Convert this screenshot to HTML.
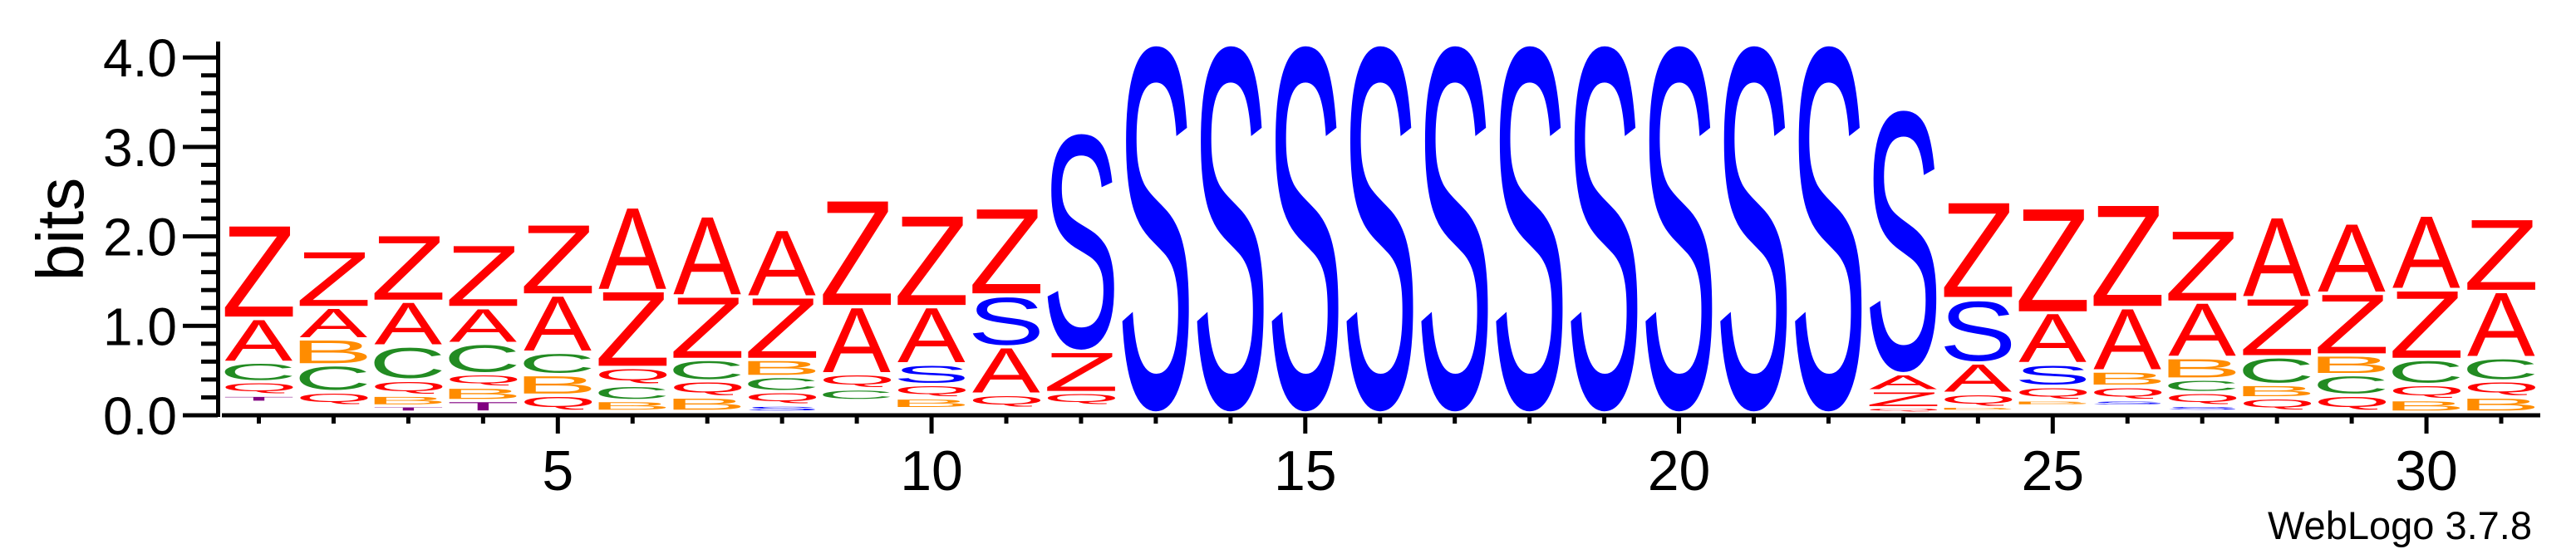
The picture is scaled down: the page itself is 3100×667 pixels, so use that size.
<!DOCTYPE html>
<html><head><meta charset="utf-8">
<style>
html,body{margin:0;padding:0;background:#fff;}
svg{display:block;}
text{font-family:"Liberation Sans",Arial,sans-serif;}
</style></head>
<body>
<svg id="chart" width="3100" height="667" viewBox="0 0 3100 667" xmlns="http://www.w3.org/2000/svg">
  <rect width="3100" height="667" fill="#fff"/>
  <g id="axes"></g>
  <g id="stacks"></g>
  <text transform="translate(100,276) rotate(-90)" text-anchor="middle" font-size="80" fill="#000">bits</text>
  <text x="3047" y="649" text-anchor="end" font-size="47" fill="#000">WebLogo 3.7.8</text>
</svg>
<script>
// ---- data ----
const positions = [1,2,3,4,5,6,7,8,9,10,11,12,13,14,15,16,17,18,19,20,21,22,23,24,25,26,27,28,29,30,31];
// letters bottom -> top (' ' = invisible residual)
const stackLetters = [
  " TQCAZ"," QCBAZ"," TBQCAZ"," TBQCAZ"," QBCAZ"," BCQZA"," BQCZA"," SQCBZA",
  " CQAZ"," BQSAZ"," QASZ"," QZS"," S"," S"," S"," S"," S"," S"," S"," S"," S"," S",
  " QZAS"," BQASZ"," BQSAZ"," SQBAZ"," SQCBAZ"," QBCZA"," QCBZA"," BQCZA"," BQCAZ"
];
const stackBits = [
  [0.14,0.08,0.15,0.22,0.49,1.01],
  [0.10,0.16,0.30,0.29,0.35,0.60],
  [0.03,0.07,0.12,0.17,0.38,0.50,0.71],
  [0.03,0.13,0.15,0.15,0.34,0.40,0.67],
  [0.04,0.18,0.23,0.25,0.64,0.76],
  [0.04,0.12,0.17,0.20,0.86,0.90],
  [0.04,0.16,0.18,0.24,0.71,0.86],
  [0.03,0.08,0.15,0.17,0.19,0.70,0.72],
  [0.16,0.13,0.17,0.75,1.16],
  [0.07,0.12,0.15,0.23,0.64,0.99],
  [0.07,0.16,0.53,0.58,0.94],
  [0.10,0.15,0.46,2.45],
  [0.02,4.15],[0.02,4.15],[0.02,4.15],[0.02,4.15],[0.02,4.15],
  [0.02,4.15],[0.02,4.15],[0.02,4.15],[0.02,4.15],[0.02,4.15],
  [0.02,0.06,0.19,0.19,2.97],
  [0.04,0.04,0.16,0.34,0.72,1.05],
  [0.10,0.06,0.16,0.25,0.57,1.14],
  [0.10,0.06,0.16,0.17,0.71,1.12],
  [0.04,0.06,0.15,0.15,0.24,0.62,0.77],
  [0.04,0.15,0.15,0.31,0.66,0.87],
  [0.04,0.18,0.23,0.22,0.69,0.75],
  [0.03,0.14,0.17,0.28,0.78,0.80],
  [0.03,0.17,0.18,0.26,0.74,0.78]
];
const yTicks = [0,1,2,3,4];
const yTickLabels = ["0.0","1.0","2.0","3.0","4.0"];
const xLabelEvery = 5;
const letterColors = {Z:"#ff0000",A:"#ff0000",Q:"#ff0000",C:"#228b22",B:"#ff8c00",S:"#0000ff",T:"#800080"};

// ---- scales ----
const NS = "http://www.w3.org/2000/svg";
const X0 = 311.5, DX = 89.95, Y0 = 500, PPB = 107.7;
function xPos(p){ return X0 + (p-1)*DX; }
function yPos(b){ return Y0 - b*PPB; }

const axes = document.getElementById('axes');
function rect(x,y,w,h,name){
  const r = document.createElementNS(NS,'rect');
  r.setAttribute('x',x); r.setAttribute('y',y); r.setAttribute('width',w); r.setAttribute('height',h);
  r.setAttribute('fill','#000');
  
  
  axes.appendChild(r);
  return r;
}
rect(260,50,5,452,'y-axis-line');
rect(267,497.5,3057-267,5,'x-axis-line');
for(let i=0;i<=20;i++){
  const b=i*0.2, y=yPos(b);
  const major = (i%5===0);
  rect(major?220:242, y-2.5, major?42:20, 5, major?'y-major-tick':'y-minor-tick');
}
yTicks.forEach((b,i)=>{
  const t=document.createElementNS(NS,'text');
  t.setAttribute('x',213); t.setAttribute('y',yPos(b)+23);
  t.setAttribute('text-anchor','end'); t.setAttribute('font-size','64'); t.setAttribute('fill','#000');
  t.textContent=yTickLabels[i];
  
  
  axes.appendChild(t);
});
positions.forEach(p=>{
  const major = (p%xLabelEvery===0);
  rect(xPos(p)-2.5, 502, 5, major?20:8, major?'x-major-tick':'x-minor-tick');
  if(major){
    const t=document.createElementNS(NS,'text');
    t.setAttribute('x',xPos(p)); t.setAttribute('y',590);
    t.setAttribute('text-anchor','middle'); t.setAttribute('font-size','68'); t.setAttribute('fill','#000');
    t.textContent=String(p);
    
    
    axes.appendChild(t);
  }
});

// ---- letter stacks ----
const cv=document.createElement('canvas').getContext('2d');
cv.font='100px "Liberation Sans", Arial, sans-serif';
const metrics={};
function m(ch){
  if(!metrics[ch]){
    const mm=cv.measureText(ch);
    metrics[ch]={l:mm.actualBoundingBoxLeft,r:mm.actualBoundingBoxRight,a:mm.actualBoundingBoxAscent,d:mm.actualBoundingBoxDescent};
  }
  return metrics[ch];
}
const stacks=document.getElementById('stacks');
const LW=82, LBASE=497.5;
positions.forEach((p,pi)=>{
  const letters=stackLetters[pi], bits=stackBits[pi];
  const g=document.createElementNS(NS,'g');
  
  
  stacks.appendChild(g);
  let acc=0;
  const n=Math.min(letters.length,bits.length);
  for(let k=0;k<n;k++){
    const ch=letters[k], h=bits[k];
    const bottom=LBASE-acc*PPB;
    acc+=h;
    if(ch===' ') continue;
    const slot=h*PPB;
    const isTop=(k===n-1);
    let ink = isTop ? slot : Math.max(slot-4, slot*0.5);
    const top=bottom-ink;
    const me=m(ch);
    const sx=LW/(me.l+me.r), sy=ink/(me.a+me.d);
    const tx=xPos(p)-LW/2;
    const t=document.createElementNS(NS,'text');
    t.setAttribute('font-size','100');
    t.setAttribute('fill',letterColors[ch]||'#000');
    t.setAttribute('transform',`translate(${tx+me.l*sx},${top+me.a*sy}) scale(${sx},${sy})`);
    t.textContent=ch;
    
    
    g.appendChild(t);
  }
});
</script>
</body></html>
